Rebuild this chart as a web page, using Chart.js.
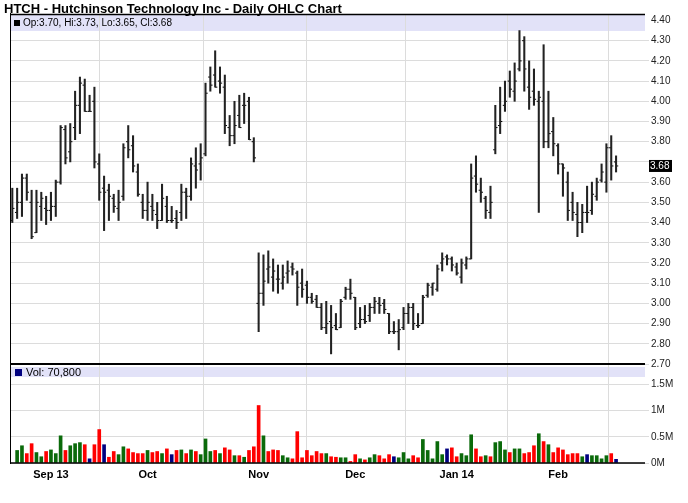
<!DOCTYPE html>
<html>
<head>
<meta charset="utf-8">
<title>HTCH Daily OHLC</title>
<script src="https://cdn.jsdelivr.net/npm/chart.js@4.4.0/dist/chart.umd.min.js"></script>
<style>
  html, body { margin: 0; padding: 0; background: #fff; }
  #wrap { position: relative; width: 688px; height: 503px; }
  #title { position: absolute; left: 4px; top: 1px; font: bold 13px "Liberation Sans", Arial, sans-serif; color: #000; white-space: nowrap; }
  canvas { position: absolute; left: 0; top: 0; }
</style>
</head>
<body>
<div id="wrap">
  <canvas id="chart" width="688" height="503"></canvas>
  <div id="title">HTCH - Hutchinson Technology Inc - Daily OHLC Chart</div>
</div>
<script>
// daily bars, 22 Aug 2013 .. 20 Feb 2014 (one entry per trading day)
const opens = [
  3.41, 3.45, 3.50, 3.62, 3.50, 3.35, 3.48, 3.47, 3.46, 3.48,
  3.60, 3.86, 3.75, 3.87, 3.98, 4.08, 3.95, 4.00, 3.69, 3.57,
  3.56, 3.52, 3.47, 3.53, 3.80, 3.78, 3.65, 3.50, 3.46, 3.48,
  3.44, 3.41, 3.48, 3.41, 3.42, 3.45, 3.55, 3.53, 3.68, 3.69,
  3.74, 4.12, 4.13, 4.10, 4.07, 3.87, 3.83, 3.93, 3.98, 4.00,
  3.80, 3.00, 3.05, 3.17, 3.13, 3.12, 3.10, 3.15, 3.18, 3.15,
  3.10, 3.09, 3.03, 3.02, 2.98, 2.88, 2.91, 2.89, 2.88, 3.03,
  3.07, 3.03, 2.90, 2.92, 2.94, 2.98, 3.00, 3.00, 2.95, 2.86,
  2.86, 2.88, 2.95, 2.98, 2.89, 2.90, 3.04, 3.08, 3.07, 3.20,
  3.23, 3.22, 3.18, 3.13, 3.19, 3.22, 3.63, 3.56, 3.52, 3.45,
  3.76, 3.88, 3.98, 4.10, 4.05, 4.16, 4.30, 4.07, 4.05, 4.00,
  4.00, 3.80, 3.85, 3.78, 3.69, 3.60, 3.50, 3.44, 3.40, 3.45,
  3.46, 3.53, 3.61, 3.60, 3.77, 3.70
];
const highs = [
  3.57, 3.57, 3.64, 3.64, 3.56, 3.56, 3.55, 3.53, 3.55, 3.61,
  3.88, 3.88, 3.89, 4.05, 4.12, 4.11, 4.03, 4.07, 3.74, 3.63,
  3.59, 3.54, 3.56, 3.79, 3.88, 3.83, 3.69, 3.54, 3.60, 3.54,
  3.50, 3.59, 3.53, 3.48, 3.46, 3.59, 3.57, 3.72, 3.77, 3.79,
  4.09, 4.17, 4.25, 4.17, 4.13, 3.93, 4.00, 4.03, 4.04, 4.02,
  3.82, 3.25, 3.24, 3.26, 3.22, 3.19, 3.19, 3.21, 3.20, 3.16,
  3.17, 3.11, 3.05, 3.04, 3.00, 3.01, 2.99, 2.95, 3.02, 3.08,
  3.12, 3.03, 2.98, 2.99, 3.00, 3.03, 3.03, 3.02, 2.95, 2.91,
  2.92, 2.98, 3.00, 3.00, 2.95, 3.04, 3.10, 3.10, 3.19, 3.25,
  3.24, 3.23, 3.20, 3.22, 3.23, 3.69, 3.73, 3.62, 3.53, 3.58,
  3.98, 4.07, 4.10, 4.15, 4.19, 4.35, 4.32, 4.20, 4.16, 4.05,
  4.28, 4.05, 3.92, 3.79, 3.69, 3.65, 3.55, 3.50, 3.49, 3.58,
  3.60, 3.62, 3.69, 3.79, 3.83, 3.73
];
const lows = [
  3.40, 3.42, 3.43, 3.51, 3.32, 3.35, 3.41, 3.39, 3.41, 3.43,
  3.59, 3.69, 3.70, 3.81, 3.84, 3.95, 3.95, 3.67, 3.51, 3.36,
  3.41, 3.45, 3.41, 3.51, 3.72, 3.65, 3.53, 3.42, 3.41, 3.41,
  3.37, 3.41, 3.40, 3.40, 3.37, 3.41, 3.42, 3.51, 3.57, 3.61,
  3.73, 4.05, 4.07, 4.04, 3.84, 3.78, 3.79, 3.87, 3.89, 3.81,
  3.70, 2.86, 2.99, 3.10, 3.06, 3.05, 3.07, 3.10, 3.14, 2.99,
  3.03, 3.00, 3.00, 2.98, 2.87, 2.85, 2.75, 2.87, 2.88, 3.02,
  3.02, 2.87, 2.88, 2.90, 2.91, 2.95, 2.95, 2.95, 2.85, 2.85,
  2.77, 2.87, 2.90, 2.87, 2.88, 2.90, 3.03, 3.04, 3.06, 3.16,
  3.19, 3.16, 3.14, 3.10, 3.17, 3.22, 3.55, 3.50, 3.42, 3.42,
  3.74, 3.84, 3.95, 4.02, 4.00, 4.15, 4.05, 3.96, 3.98, 3.45,
  3.77, 3.77, 3.73, 3.64, 3.53, 3.41, 3.41, 3.33, 3.35, 3.40,
  3.44, 3.51, 3.60, 3.55, 3.61, 3.65
];
const closes = [
  3.47, 3.50, 3.62, 3.55, 3.33, 3.50, 3.52, 3.46, 3.48, 3.60,
  3.87, 3.72, 3.80, 3.98, 4.09, 3.95, 3.95, 3.70, 3.55, 3.55,
  3.53, 3.48, 3.50, 3.77, 3.76, 3.68, 3.54, 3.46, 3.50, 3.46,
  3.41, 3.52, 3.41, 3.41, 3.40, 3.55, 3.53, 3.69, 3.66, 3.72,
  4.04, 4.08, 4.07, 4.09, 3.88, 3.83, 3.88, 3.87, 3.98, 3.81,
  3.72, 3.05, 3.11, 3.18, 3.16, 3.12, 3.13, 3.16, 3.17, 3.08,
  3.07, 3.03, 3.01, 2.98, 2.88, 2.90, 2.88, 2.87, 3.01, 3.07,
  3.05, 2.88, 2.92, 2.91, 2.98, 3.01, 2.99, 2.97, 2.86, 2.86,
  2.87, 2.95, 2.98, 2.90, 2.89, 3.03, 3.09, 3.10, 3.17, 3.22,
  3.22, 3.19, 3.15, 3.20, 3.22, 3.62, 3.59, 3.55, 3.46, 3.50,
  3.87, 3.90, 4.00, 4.06, 4.10, 4.20, 4.16, 4.02, 4.01, 4.02,
  3.80, 3.84, 3.79, 3.69, 3.67, 3.46, 3.45, 3.40, 3.45, 3.45,
  3.54, 3.60, 3.65, 3.77, 3.68, 3.68
];
// shares traded
const volumes = [
  null, 240000, 330000, 180000, 370000, 200000, 120000, 220000, 250000, 180000,
  520000, 240000, 330000, 370000, 390000, 350000, 80000, 350000, 640000, 350000,
  110000, 220000, 160000, 310000, 270000, 200000, 180000, 180000, 240000, 200000,
  220000, 180000, 270000, 160000, 240000, 250000, 180000, 250000, 220000, 160000,
  460000, 220000, 240000, 180000, 290000, 250000, 140000, 140000, 110000, 240000,
  310000, 1100000, 520000, 220000, 250000, 240000, 140000, 100000, 80000, 600000,
  100000, 240000, 140000, 220000, 180000, 180000, 120000, 110000, 100000, 100000,
  30000, 160000, 80000, 60000, 100000, 160000, 140000, 80000, 160000, 120000,
  100000, 200000, 80000, 140000, 100000, 450000, 240000, 80000, 410000, 160000,
  270000, 290000, 120000, 180000, 140000, 540000, 270000, 120000, 140000, 120000,
  390000, 410000, 250000, 200000, 270000, 270000, 180000, 200000, 330000, 560000,
  410000, 350000, 200000, 290000, 250000, 160000, 180000, 180000, 120000, 160000,
  140000, 140000, 80000, 140000, 180000, 70800
];
// volume bar colour: g = up, r = down, n = unchanged
const volDir = [
  'g','g','g','r','r','g','g','r','g','g',
  'g','r','g','g','g','r','n','r','r','n',
  'r','r','g','g','r','r','r','r','g','r',
  'r','g','r','n','r','g','r','g','r','g',
  'g','g','r','g','r','r','g','r','g','r',
  'r','r','g','r','r','r','g','g','r','r',
  'r','r','r','r','r','g','r','r','g','g',
  'r','r','g','r','g','g','r','r','r','n',
  'g','g','g','r','r','g','g','g','g','g',
  'n','r','r','g','g','g','r','r','g','r',
  'g','g','g','r','g','g','r','r','r','g',
  'r','g','r','r','r','r','r','r','g','n',
  'g','g','g','g','r','n'
];
// first trading day of each month (bar number) and its axis label
const monthBars = [9, 29, 52, 72, 93, 114];
const monthLabels = ['Sep 13', 'Oct', 'Nov', 'Dec', 'Jan 14', 'Feb'];
const priceTicks = [2.7, 2.8, 2.9, 3.0, 3.1, 3.2, 3.3, 3.4, 3.5, 3.6, 3.7, 3.8, 3.9, 4.0, 4.1, 4.2, 4.3, 4.4];
const volumeTicks = [0, 500000, 1000000, 1500000];

const FONT = '"Liberation Sans", Arial, sans-serif';
const dirColor = { g: '#0a6a0a', r: '#ff0000', n: '#000080' };
const last = closes.length - 1;
const bars = closes.map((c, i) => i + 1);

const decorations = {
  id: 'decorations',
  beforeDraw(chart) {
    const { ctx, chartArea: a, scales } = chart;
    ctx.save();
    ctx.fillStyle = '#e2e2f8';
    ctx.fillRect(a.left, scales.y.top + 1, a.right - a.left, 16);
    ctx.fillRect(a.left, scales.v.top + 3, a.right - a.left, 10);
    ctx.restore();
  },
  afterDraw(chart) {
    const { ctx, chartArea: a, scales } = chart;
    const y = scales.y, v = scales.v;
    ctx.save();
    ctx.strokeStyle = '#000';
    const line = (x1, y1, x2, y2, w) => {
      ctx.lineWidth = w;
      ctx.beginPath(); ctx.moveTo(x1, y1); ctx.lineTo(x2, y2); ctx.stroke();
    };
    line(a.left - 0.5, y.top - 1, a.left - 0.5, a.bottom + 1, 1);
    line(a.left - 1, y.top + 0.5, a.right, y.top + 0.5, 1.5);
    line(a.left - 1, v.top, a.right, v.top, 2);
    line(a.left - 1, a.bottom, a.right, a.bottom, 1.5);

    // legend rows
    ctx.fillStyle = '#000';
    ctx.fillRect(14, y.top + 6, 6, 6);
    ctx.font = '10px ' + FONT;
    ctx.textBaseline = 'middle';
    ctx.textAlign = 'left';
    ctx.fillText('Op:' + opens[last].toFixed(2) + ', Hi:' + highs[last].toFixed(2) +
      ', Lo:' + lows[last].toFixed(2) + ', Cl:' + closes[last].toFixed(2), 23, y.top + 9.5);
    ctx.fillStyle = '#000080';
    ctx.fillRect(15, v.top + 5, 7, 7);
    ctx.fillStyle = '#000';
    ctx.font = '11px ' + FONT;
    ctx.fillText('Vol: ' + volumes[last].toLocaleString('en-US'), 26, v.top + 8.5);

    // last close marker on the price axis
    const py = y.getPixelForValue(closes[last]);
    ctx.fillStyle = '#000';
    ctx.fillRect(649, py - 6, 23, 12);
    ctx.fillStyle = '#fff';
    ctx.font = '10px ' + FONT;
    ctx.fillText(closes[last].toFixed(2), 650, py + 0.5);
    ctx.restore();
  }
};

new Chart(document.getElementById('chart'), {
  type: 'bar',
  data: {
    datasets: [
      {
        type: 'bar', label: 'High-Low', yAxisID: 'y', grouped: false,
        data: bars.map(i => ({ x: i, y: [lows[i - 1], highs[i - 1]] })),
        backgroundColor: '#222', barThickness: 1.4, borderWidth: 0
      },
      {
        type: 'line', label: 'Open', yAxisID: 'y', showLine: false,
        data: bars.map(i => ({ x: i - 0.22, y: opens[i - 1] })),
        pointStyle: 'line', pointRadius: 1.1, pointBorderWidth: 1, pointBorderColor: '#000'
      },
      {
        type: 'line', label: 'Close', yAxisID: 'y', showLine: false,
        data: bars.map(i => ({ x: i + 0.22, y: closes[i - 1] })),
        pointStyle: 'line', pointRadius: 1.1, pointBorderWidth: 1, pointBorderColor: '#000'
      },
      {
        type: 'bar', label: 'Volume', yAxisID: 'v', grouped: false,
        data: bars.map(i => ({ x: i, y: volumes[i - 1] })),
        backgroundColor: volDir.map(d => dirColor[d]), barThickness: 3, borderWidth: 0
      }
    ]
  },
  options: {
    responsive: false,
    animation: false,
    events: [],
    layout: { padding: { left: 11, top: 14, right: 0, bottom: 0 } },
    plugins: { legend: { display: false }, tooltip: { enabled: false } },
    scales: {
      x: {
        type: 'linear', min: 0.73, max: 131.99, offset: false,
        grid: { color: '#dcdcdc', drawTicks: false },
        border: { display: false },
        afterBuildTicks: s => { s.ticks = monthBars.map(b => ({ value: b })); },
        afterFit: s => { s.height = 40; },
        ticks: {
          autoSkip: false, maxRotation: 0, padding: 5, color: '#000',
          font: { family: FONT, size: 11, weight: 'bold' },
          callback: val => monthLabels[monthBars.indexOf(val)]
        }
      },
      y: {
        type: 'linear', position: 'right', stack: 'panels', stackWeight: 350,
        min: 2.70, max: 4.432,
        afterFit: s => { s.width = 43; },
        afterBuildTicks: s => { s.ticks = priceTicks.map(p => ({ value: p })); },
        grid: {
          color: c => (c.tick && Math.abs(c.tick.value - 4.40) < 0.001) ? 'rgba(0,0,0,0)' : '#dcdcdc',
          tickLength: 4
        },
        border: { display: false },
        ticks: {
          autoSkip: false, padding: 2, color: '#222',
          font: { family: FONT, size: 10 },
          callback: val => Math.abs(val - closes[last]) < 0.05 ? '' : val.toFixed(2)
        }
      },
      v: {
        type: 'linear', position: 'right', stack: 'panels', stackWeight: 99,
        min: 0, max: 1894000,
        afterFit: s => { s.width = 43; },
        afterBuildTicks: s => { s.ticks = volumeTicks.map(t => ({ value: t })); },
        grid: { color: '#dcdcdc', tickLength: 4 },
        border: { display: false },
        ticks: {
          autoSkip: false, padding: 2, color: '#222',
          font: { family: FONT, size: 10 },
          callback: val => (val / 1000000) + 'M'
        }
      }
    }
  },
  plugins: [decorations]
});
</script>
</body>
</html>
